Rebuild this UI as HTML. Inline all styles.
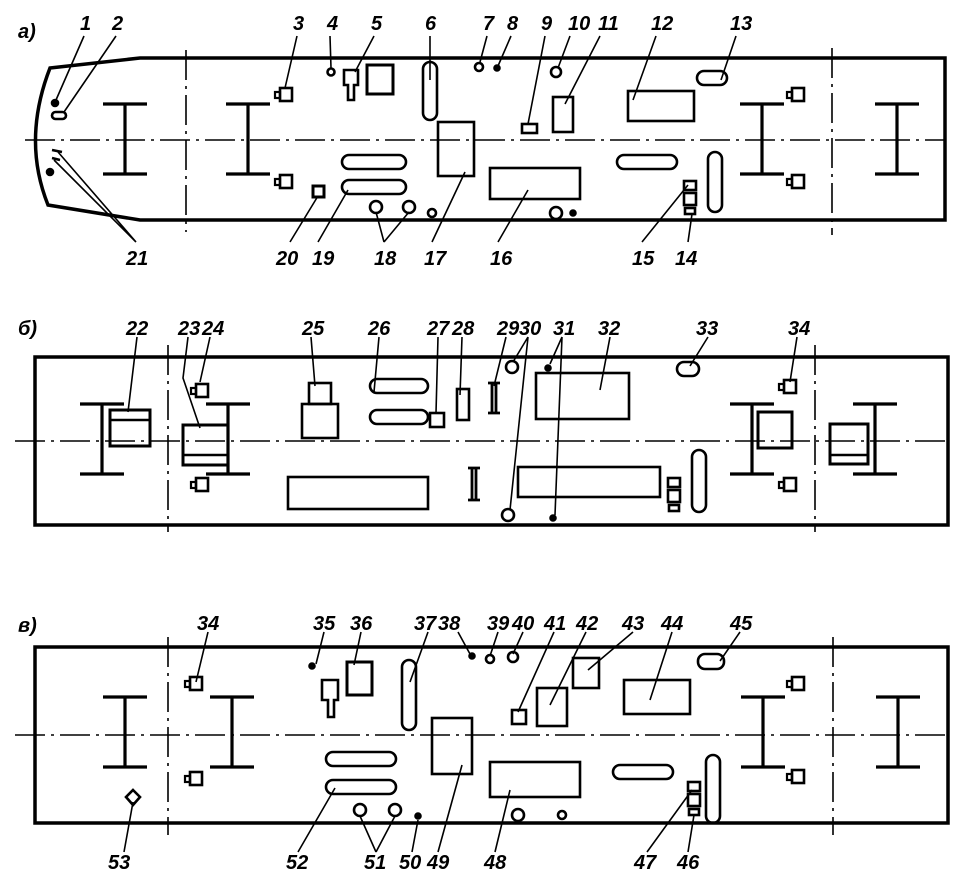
<!DOCTYPE html><html><head><style>body{margin:0;background:#fff}svg{display:block}
text{font-family:"Liberation Sans",sans-serif;font-style:italic;font-weight:bold;font-size:20px;fill:#000}</style></head><body>
<svg width="969" height="881" viewBox="0 0 969 881" fill="none" stroke="#000" stroke-width="2.6">
<defs>
<g id="I"><path d="M-22 0H22M0 0V70M-22 70H22" stroke-width="3.2"/></g>
<g id="bx"><rect x="0" y="0" width="12" height="13" stroke-width="2.6"/><rect x="-5" y="4" width="5" height="6" stroke-width="2.2"/></g>
<g id="vl"><rect x="-6" y="0" width="12" height="9"/><rect x="-6" y="12" width="12" height="12"/><rect x="-5" y="27" width="10" height="6"/></g>
</defs>
<!-- PANEL A -->
<text x="18" y="38" stroke="none">a)</text>
<path d="M50 68L140 58H945V220H140L48 205Q22 140 50 68Z" stroke-width="3.5"/>
<path d="M25 140H945" stroke-width="1.6" stroke-dasharray="30 6 3 6"/>
<path d="M186 50V232M832 48V235" stroke-width="1.6" stroke-dasharray="30 6 3 6"/>
<use href="#I" x="125" y="104"/><use href="#I" x="248" y="104"/><use href="#I" x="762" y="104"/><use href="#I" x="897" y="104"/>
<use href="#bx" x="280" y="88"/><use href="#bx" x="280" y="175"/><use href="#bx" x="792" y="88"/><use href="#bx" x="792" y="175"/>
<circle cx="55" cy="103" r="3" fill="#000"/><rect x="52" y="112" width="14" height="7" rx="3.5"/>
<path d="M52 150L62 152M52 158L60 160"/><circle cx="50" cy="172" r="3" fill="#000"/>
<circle cx="331" cy="72" r="3.5"/><path d="M344 70H358V85H354V100H348V85H344Z"/><rect x="367" y="65" width="26" height="29" stroke-width="3"/>
<rect x="423" y="62" width="14" height="58" rx="7"/>
<circle cx="479" cy="67" r="4"/><circle cx="497" cy="68" r="2.5" fill="#000"/>
<rect x="522" y="124" width="15" height="9"/><circle cx="556" cy="72" r="5"/><rect x="553" y="97" width="20" height="35"/>
<rect x="628" y="91" width="66" height="30"/><rect x="697" y="71" width="30" height="14" rx="7"/>
<rect x="438" y="122" width="36" height="54"/><rect x="490" y="168" width="90" height="31"/>
<circle cx="376" cy="207" r="6"/><circle cx="409" cy="207" r="6"/><circle cx="432" cy="213" r="4"/>
<rect x="342" y="155" width="64" height="14" rx="7"/><rect x="342" y="180" width="64" height="14" rx="7"/>
<rect x="313" y="186" width="11" height="11" stroke-width="3"/>
<rect x="617" y="155" width="60" height="14" rx="7"/><rect x="708" y="152" width="14" height="60" rx="7"/>
<circle cx="556" cy="213" r="6"/><circle cx="573" cy="213" r="2.5" fill="#000"/>
<use href="#vl" x="690" y="181"/>
<g stroke-width="1.6">
<path d="M84 36L56 100M116 36L64 112M297 36L285 88M330 36L331 68M374 36L355 72M430 36L430 80M487 36L480 62M511 36L498 66M545 36L528 124M570 36L558 68M600 36L565 104M656 36L633 100M736 36L721 80M136 242L58 152M136 242L54 160M290 242L318 196M318 242L348 190M384 242L376 212M384 242L409 212M432 242L465 172M498 242L528 190M642 242L688 185M688 242L692 214"/>
</g>
<g stroke="none"><text x="80" y="30">1</text><text x="112" y="30">2</text><text x="293" y="30">3</text><text x="327" y="30">4</text><text x="371" y="30">5</text><text x="425" y="30">6</text><text x="483" y="30">7</text><text x="507" y="30">8</text><text x="541" y="30">9</text><text x="568" y="30">10</text><text x="598" y="30">11</text><text x="651" y="30">12</text><text x="730" y="30">13</text>
<text x="126" y="265">21</text><text x="276" y="265">20</text><text x="312" y="265">19</text><text x="374" y="265">18</text><text x="424" y="265">17</text><text x="490" y="265">16</text><text x="632" y="265">15</text><text x="675" y="265">14</text></g>
<!-- PANEL B -->
<text x="18" y="335" stroke="none">б)</text>
<rect x="35" y="357" width="913" height="168" stroke-width="3.5"/>
<path d="M15 441H948" stroke-width="1.6" stroke-dasharray="30 6 3 6"/>
<path d="M168 345V532M815 345V532" stroke-width="1.6" stroke-dasharray="30 6 3 6"/>
<use href="#I" x="102" y="404"/><use href="#I" x="228" y="404"/><use href="#I" x="752" y="404"/><use href="#I" x="875" y="404"/>
<rect x="110" y="410" width="40" height="36" stroke-width="3"/><path d="M110 420H150"/>
<rect x="183" y="425" width="45" height="40" stroke-width="3"/><path d="M183 455H228"/>
<rect x="758" y="412" width="34" height="36" stroke-width="3"/><rect x="830" y="424" width="38" height="40" stroke-width="3"/><path d="M830 455H868"/>
<use href="#bx" x="196" y="384"/><use href="#bx" x="196" y="478"/><use href="#bx" x="784" y="380"/><use href="#bx" x="784" y="478"/>
<rect x="309" y="383" width="22" height="21"/><rect x="302" y="404" width="36" height="34"/>
<rect x="370" y="379" width="58" height="14" rx="7"/><rect x="370" y="410" width="58" height="14" rx="7"/>
<rect x="430" y="413" width="14" height="14"/><rect x="457" y="389" width="12" height="31"/>
<path d="M488 383H500M488 413H500M492 383V413M496 383V413M468 468H480M468 500H480M472 468V500M476 468V500" stroke-width="2.8"/>
<circle cx="512" cy="367" r="6"/><circle cx="508" cy="515" r="6"/>
<circle cx="548" cy="368" r="2.5" fill="#000"/><circle cx="553" cy="518" r="2.5" fill="#000"/>
<rect x="536" y="373" width="93" height="46"/><rect x="677" y="362" width="22" height="14" rx="7"/>
<rect x="288" y="477" width="140" height="32"/><rect x="518" y="467" width="142" height="30"/>
<rect x="692" y="450" width="14" height="62" rx="7"/><use href="#vl" x="674" y="478"/>
<g stroke-width="1.6"><path d="M137 337L128 412M188 337L183 378L200 428M210 337L200 382M311 337L315 386M379 337L374 392M438 337L436 413M462 337L460 395M506 337L494 386M528 337L513 362M528 337L510 510M562 337L550 364M562 337L555 515M610 337L600 390M708 337L690 366M797 337L790 382"/></g>
<g stroke="none"><text x="126" y="335">22</text><text x="178" y="335">23</text><text x="202" y="335">24</text><text x="302" y="335">25</text><text x="368" y="335">26</text><text x="427" y="335">27</text><text x="452" y="335">28</text><text x="497" y="335">29</text><text x="519" y="335">30</text><text x="553" y="335">31</text><text x="598" y="335">32</text><text x="696" y="335">33</text><text x="788" y="335">34</text></g>
<!-- PANEL C -->
<text x="18" y="632" stroke="none">в)</text>
<rect x="35" y="647" width="913" height="176" stroke-width="3.5"/>
<path d="M15 735H948" stroke-width="1.6" stroke-dasharray="30 6 3 6"/>
<path d="M168 637V835M833 637V835" stroke-width="1.6" stroke-dasharray="30 6 3 6"/>
<use href="#I" x="125" y="697"/><use href="#I" x="232" y="697"/><use href="#I" x="763" y="697"/><use href="#I" x="898" y="697"/>
<use href="#bx" x="190" y="677"/><use href="#bx" x="190" y="772"/><use href="#bx" x="792" y="677"/><use href="#bx" x="792" y="770"/>
<path d="M133 790L140 797L133 805L126 797Z"/>
<circle cx="312" cy="666" r="2.5" fill="#000"/><path d="M322 680H338V700H334V717H328V700H322Z"/><rect x="347" y="662" width="25" height="33" stroke-width="3"/>
<rect x="402" y="660" width="14" height="70" rx="7"/>
<circle cx="472" cy="656" r="2.5" fill="#000"/><circle cx="490" cy="659" r="4"/><circle cx="513" cy="657" r="5"/>
<rect x="512" y="710" width="14" height="14"/><rect x="537" y="688" width="30" height="38"/><rect x="573" y="658" width="26" height="30"/>
<rect x="624" y="680" width="66" height="34"/><rect x="698" y="654" width="26" height="15" rx="7"/>
<rect x="432" y="718" width="40" height="56"/>
<rect x="326" y="752" width="70" height="14" rx="7"/><rect x="326" y="780" width="70" height="14" rx="7"/>
<circle cx="360" cy="810" r="6"/><circle cx="395" cy="810" r="6"/><circle cx="418" cy="816" r="2.5" fill="#000"/>
<rect x="490" y="762" width="90" height="35"/><circle cx="518" cy="815" r="6"/><circle cx="562" cy="815" r="4"/>
<rect x="613" y="765" width="60" height="14" rx="7"/><rect x="706" y="755" width="14" height="68" rx="7"/>
<use href="#vl" x="694" y="782"/>
<g stroke-width="1.6"><path d="M208 632L196 682M324 632L316 664M361 632L354 665M428 632L410 682M458 632L470 654M498 632L490 656M523 632L513 654M554 632L518 712M586 632L550 705M633 632L588 670M672 632L650 700M740 632L720 661M124 852L133 802M298 852L335 788M376 852L360 816M376 852L395 816M412 852L418 820M438 852L462 765M495 852L510 790M647 852L692 790M688 852L694 815"/></g>
<g stroke="none"><text x="197" y="630">34</text><text x="313" y="630">35</text><text x="350" y="630">36</text><text x="414" y="630">37</text><text x="438" y="630">38</text><text x="487" y="630">39</text><text x="512" y="630">40</text><text x="544" y="630">41</text><text x="576" y="630">42</text><text x="622" y="630">43</text><text x="661" y="630">44</text><text x="730" y="630">45</text>
<text x="108" y="869">53</text><text x="286" y="869">52</text><text x="364" y="869">51</text><text x="399" y="869">50</text><text x="427" y="869">49</text><text x="484" y="869">48</text><text x="634" y="869">47</text><text x="677" y="869">46</text></g>
</svg></body></html>
